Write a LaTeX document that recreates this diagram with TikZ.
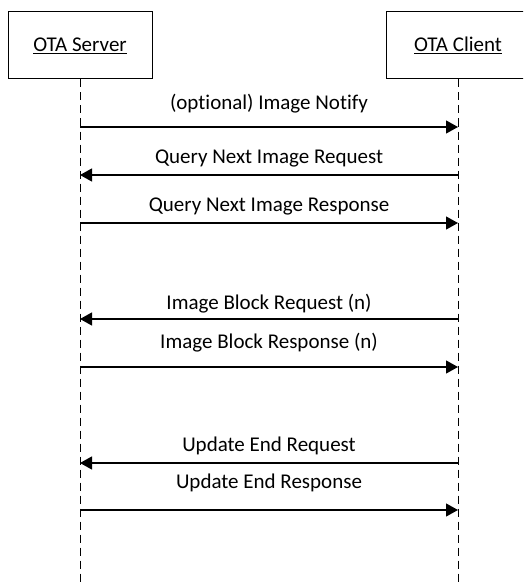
\documentclass[tikz,border=0pt]{standalone}
\usepackage{fontspec}
\setmainfont[Ligatures=NoCommon]{Carlito}
\usetikzlibrary{arrows.meta}
\begin{document}
\begin{tikzpicture}[x=1pt,y=-1pt,
  actorbox/.style={draw=black,line width=1pt,minimum width=144pt,minimum height=67pt,inner sep=0pt,font=\fontsize{21}{25}\selectfont},
  lifeline/.style={line width=1pt,dash pattern=on 8pt off 5pt},
  msg/.style={line width=1.2pt,-{Triangle[length=12pt,width=13pt]}},
  lbl/.style={anchor=base,inner sep=0pt,font=\fontsize{21}{25}\selectfont}]
\useasboundingbox (0,0) rectangle (523,583);
\begin{scope}
\clip (0,0) rectangle (523,583);
\node[actorbox] (srv) at (80,45.5) {\underline{OTA Server}};
\node[actorbox] (cli) at (458,45.5) {\underline{OTA Client}};
\coordinate (sb) at (80,583);
\coordinate (cb) at (458,583);
\draw[lifeline] (srv.south) -- (sb);
\draw[lifeline] (cli.south) -- (cb);
\end{scope}
% message anchor points
\foreach \n/\y in {a/127,b/175,c/223,d/319,e/367,f/463,g/510}{
  \coordinate (s\n) at (80,\y);
  \coordinate (c\n) at (458,\y);
}
\draw[msg] (sa) -- (ca);
\draw[msg] (cb) -- (sb);
\draw[msg] (sc) -- (cc);
\draw[msg] (cd) -- (sd);
\draw[msg] (se) -- (ce);
\draw[msg] (cf) -- (sf);
\draw[msg] (sg) -- (cg);
\node[lbl] (la) at (269,110) {(optional) Image Notify};
\node[lbl] (lb) at (269,163) {Query Next Image Request};
\node[lbl] (lc) at (269,211) {Query Next Image Response};
\node[lbl] (ld) at (269,309) {Image Block Request (n)};
\node[lbl] (le) at (269,348) {Image Block Response (n)};
\node[lbl] (lf) at (269,451) {Update End Request};
\node[lbl] (lg) at (269,488) {Update End Response};
\end{tikzpicture}
\end{document}
